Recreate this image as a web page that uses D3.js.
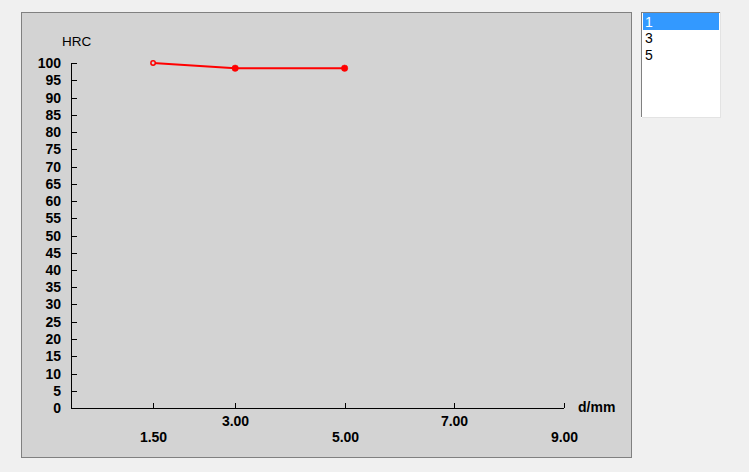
<!DOCTYPE html>
<html>
<head>
<meta charset="utf-8">
<script src="https://cdn.jsdelivr.net/npm/d3@7"></script>
<style>
  body { margin: 0; background: #f0f0f0; }
  svg { display: block; }
  text { font-family: "Liberation Sans", Arial, sans-serif; }
</style>
</head>
<body>
<div id="chart"></div>
<script>
// Data
const depths = [1.5, 3.0, 5.0];
const hardness = [100, 98.5, 98.5];
const xTicks = [1.5, 3, 5, 7, 9];
const yTicks = d3.range(0, 101, 5);
const listItems = ["1", "3", "5"];

const W = 749, H = 472;

var svg = d3.select("#chart").append("svg")
  .attr("width", W)
  .attr("height", H);

// Panel background
svg.append("rect")
  .attr("x", 21.5).attr("y", 12.5)
  .attr("width", 610).attr("height", 445)
  .attr("fill", "#d3d3d3")
  .attr("stroke", "#808080");

var x = d3.scaleLinear().domain([0, 9]).range([71, 563.5]);
var y = d3.scaleLinear().domain([0, 100]).range([408, 63]);

var g = svg.append("g").attr("shape-rendering", "crispEdges");

// Y axis
g.append("line")
  .attr("x1", 71.5).attr("x2", 71.5)
  .attr("y1", y(100)).attr("y2", y(0) + 0.5)
  .attr("stroke", "#000");
yTicks.forEach(function (t) {
  var yy = Math.round(y(t)) + 0.5;
  g.append("line")
    .attr("x1", 71.5).attr("x2", 77)
    .attr("y1", yy).attr("y2", yy)
    .attr("stroke", "#000");
  svg.append("text")
    .attr("x", 61).attr("y", yy + 4)
    .attr("text-anchor", "end")
    .attr("font-size", 14).attr("font-weight", "bold")
    .text(t);
});

// X axis
g.append("line")
  .attr("x1", 71).attr("x2", x(9) + 0.5)
  .attr("y1", 408.5).attr("y2", 408.5)
  .attr("stroke", "#000");
xTicks.forEach(function (t, i) {
  var xx = Math.round(x(t)) + 0.5;
  g.append("line")
    .attr("x1", xx).attr("x2", xx)
    .attr("y1", 408).attr("y2", 403)
    .attr("stroke", "#000");
  svg.append("text")
    .attr("x", xx).attr("y", i % 2 == 0 ? 442 : 426)
    .attr("text-anchor", "middle")
    .attr("font-size", 14).attr("font-weight", "bold")
    .text(t.toFixed(2));
});

// Axis titles
svg.append("text")
  .attr("x", 62).attr("y", 46)
  .attr("font-size", 13.5)
  .text("HRC");
svg.append("text")
  .attr("x", 578).attr("y", 412)
  .attr("font-size", 14).attr("font-weight", "bold")
  .text("d/mm");

// Hardness line
var line = d3.line()
  .x(function (d, i) { return x(depths[i]); })
  .y(function (d) { return y(d); });

svg.append("path")
  .datum(hardness)
  .attr("d", line)
  .attr("fill", "none")
  .attr("stroke", "#ff0000")
  .attr("stroke-width", 2);

svg.selectAll("circle.pt")
  .data(hardness)
  .enter()
  .append("circle")
  .attr("class", "pt")
  .attr("cx", function (d, i) { return x(depths[i]); })
  .attr("cy", function (d) { return y(d); })
  .attr("r", function (d, i) { return i == 0 ? 2.2 : 3.2; })
  .attr("fill", function (d, i) { return i == 0 ? "#d3d3d3" : "#ff0000"; })
  .attr("stroke", "#ff0000")
  .attr("stroke-width", function (d, i) { return i == 0 ? 1.5 : 0.5; });

// List box on the right
var lb = svg.append("g").attr("shape-rendering", "crispEdges");
lb.append("rect")
  .attr("x", 641).attr("y", 12)
  .attr("width", 80).attr("height", 106)
  .attr("fill", "#ffffff");
lb.append("path")
  .attr("d", "M641.5,117 V12.5 H720")
  .attr("fill", "none").attr("stroke", "#808080");
lb.append("path")
  .attr("d", "M642,117.5 H720.5 V12")
  .attr("fill", "none").attr("stroke", "#e3e3e3");
lb.append("rect")
  .attr("x", 643).attr("y", 13)
  .attr("width", 76).attr("height", 17)
  .attr("fill", "#3399ff");

listItems.forEach(function (d, i) {
  svg.append("text")
    .attr("x", 645).attr("y", 27 + i * 16.3)
    .attr("font-size", 14)
    .attr("fill", i == 0 ? "#ffffff" : "#000000")
    .text(d);
});
</script>
</body>
</html>
